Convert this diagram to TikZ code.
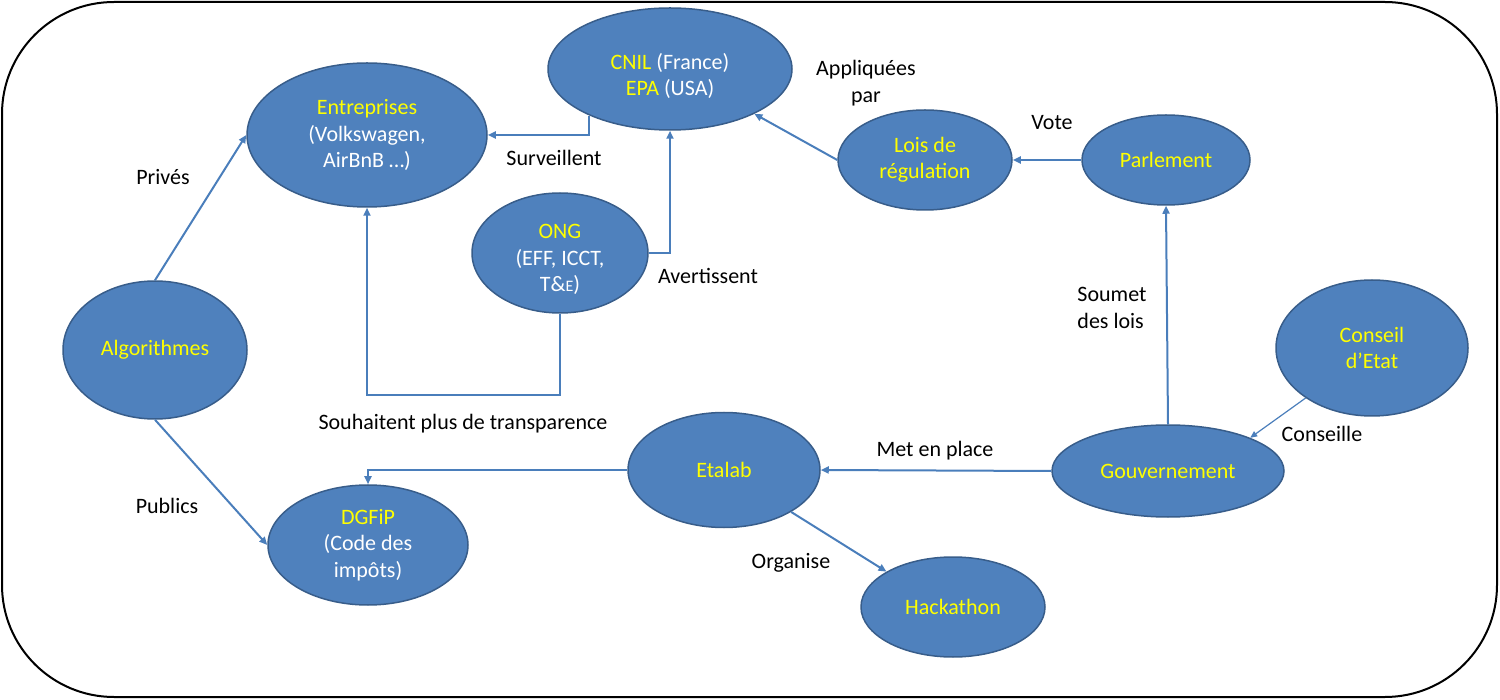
\documentclass[tikz,border=0pt]{standalone}
\usepackage{fontspec}
\setmainfont{Carlito}
\usetikzlibrary{shapes.geometric,arrows.meta}
\definecolor{fillb}{HTML}{4F81BD}
\definecolor{edgeb}{HTML}{385D8A}
\definecolor{lineb}{HTML}{4A7EBB}
\definecolor{yel}{HTML}{FFFF00}
\newcommand{\yl}[1]{\textcolor{yel}{#1}}
\begin{document}
\begin{tikzpicture}[x=1pt,y=-1pt,
 ell/.style={ellipse, draw=edgeb, line width=1.5pt, fill=fillb, inner sep=0pt, text=white, align=center, font=\fontsize{22}{26.5}\selectfont},
 arr/.style={draw=lineb, line width=2pt, -{Triangle[length=8pt,width=7pt]}},
 thinarr/.style={draw=lineb, line width=1.2pt, -{Triangle[length=7pt,width=6pt]}},
 lbl/.style={font=\fontsize{22}{26.5}\selectfont, align=center, inner sep=0pt}]
\useasboundingbox (0,0) rectangle (1500,700);
\draw[line width=2pt, rounded corners=112pt] (2,2) rectangle (1497,697);

% nodes
\node[ell, minimum width=240pt, minimum height=144pt] (ent) at (367,135) {\yl{Entreprises}\\(Volkswagen,\\AirBnB …)};
\node[ell, minimum width=244pt, minimum height=122pt] (cnil) at (670,69) {\rule{0pt}{30pt}\yl{CNIL} (France)\\\yl{EPA} (USA)};
\node[ell, minimum width=174pt, minimum height=100pt] (lois) at (925,160) {\yl{Lois de}\\\yl{régulation}};
\node[ell, minimum width=168pt, minimum height=90pt] (parl) at (1166,160) {\yl{Parlement}};
\node[ell, minimum width=176pt, minimum height=120pt] (ong) at (560,253) {\rule{0pt}{28pt}\yl{ONG}\\(EFF, ICCT,\\T\&{\fontsize{16}{16}\selectfont E})};
\node[ell, minimum width=184pt, minimum height=138pt] (alg) at (155,350) {\yl{Algorithmes}};
\node[ell, minimum width=192pt, minimum height=136pt] (cons) at (1372,348) {\yl{Conseil}\\\yl{d’Etat}};
\node[ell, minimum width=192pt, minimum height=115pt] (etalab) at (724,470) {\yl{Etalab}};
\node[ell, minimum width=232pt, minimum height=92pt] (gouv) at (1168,471) {\yl{Gouvernement}};
\node[ell, minimum width=200pt, minimum height=120pt] (dgfip) at (368,545) {\yl{DGFiP}\\(Code des\\impôts)};
\node[ell, minimum width=184pt, minimum height=100pt] (hack) at (953,607) {\yl{Hackathon}};

% connectors
\draw[arr] (alg.north) -- (ent.west);
\draw[arr] (alg.south) -- (dgfip.west);
\draw[arr] (cnil.210) |- (ent.east);
\draw[arr] (ong.east) -| (cnil.south);
\coordinate (souhb) at (560,395);
\draw[arr] (ong.south) -- (souhb) -| (ent.south);
\draw[arr] (lois.west) -- (cnil.332);
\draw[arr] (parl.west) -- (lois.east);
\draw[arr] (gouv.north) -- (parl.south);
\draw[thinarr] (cons.217) -- (gouv.22);
\draw[arr] (gouv.west) -- (etalab.east);
\draw[arr] (etalab.west) -| (dgfip.north);
\draw[arr] (etalab.328) -- (hack.152);

% labels
\node[lbl] (lprives) at (163,177) {Privés};
\node[lbl] (lpublics) at (167,506) {Publics};
\node[lbl] (lsurv) at (554,158) {Surveillent};
\node[lbl] (laver) at (708,276) {Avertissent};
\node[lbl] (lsouh) at (463,424) {Souhaitent plus de transparence};
\node[lbl] (lappl) at (866,83) {Appliquées\\par};
\node[lbl] (lvote) at (1052,123) {Vote};
\node[lbl, align=left] (lsoum) at (1112,308) {Soumet\\des lois};
\node[lbl] (lcons) at (1322,434) {Conseille};
\node[lbl] (lmet) at (935,451) {Met en place};
\node[lbl] (lorg) at (791,563) {Organise};
\end{tikzpicture}
\end{document}
